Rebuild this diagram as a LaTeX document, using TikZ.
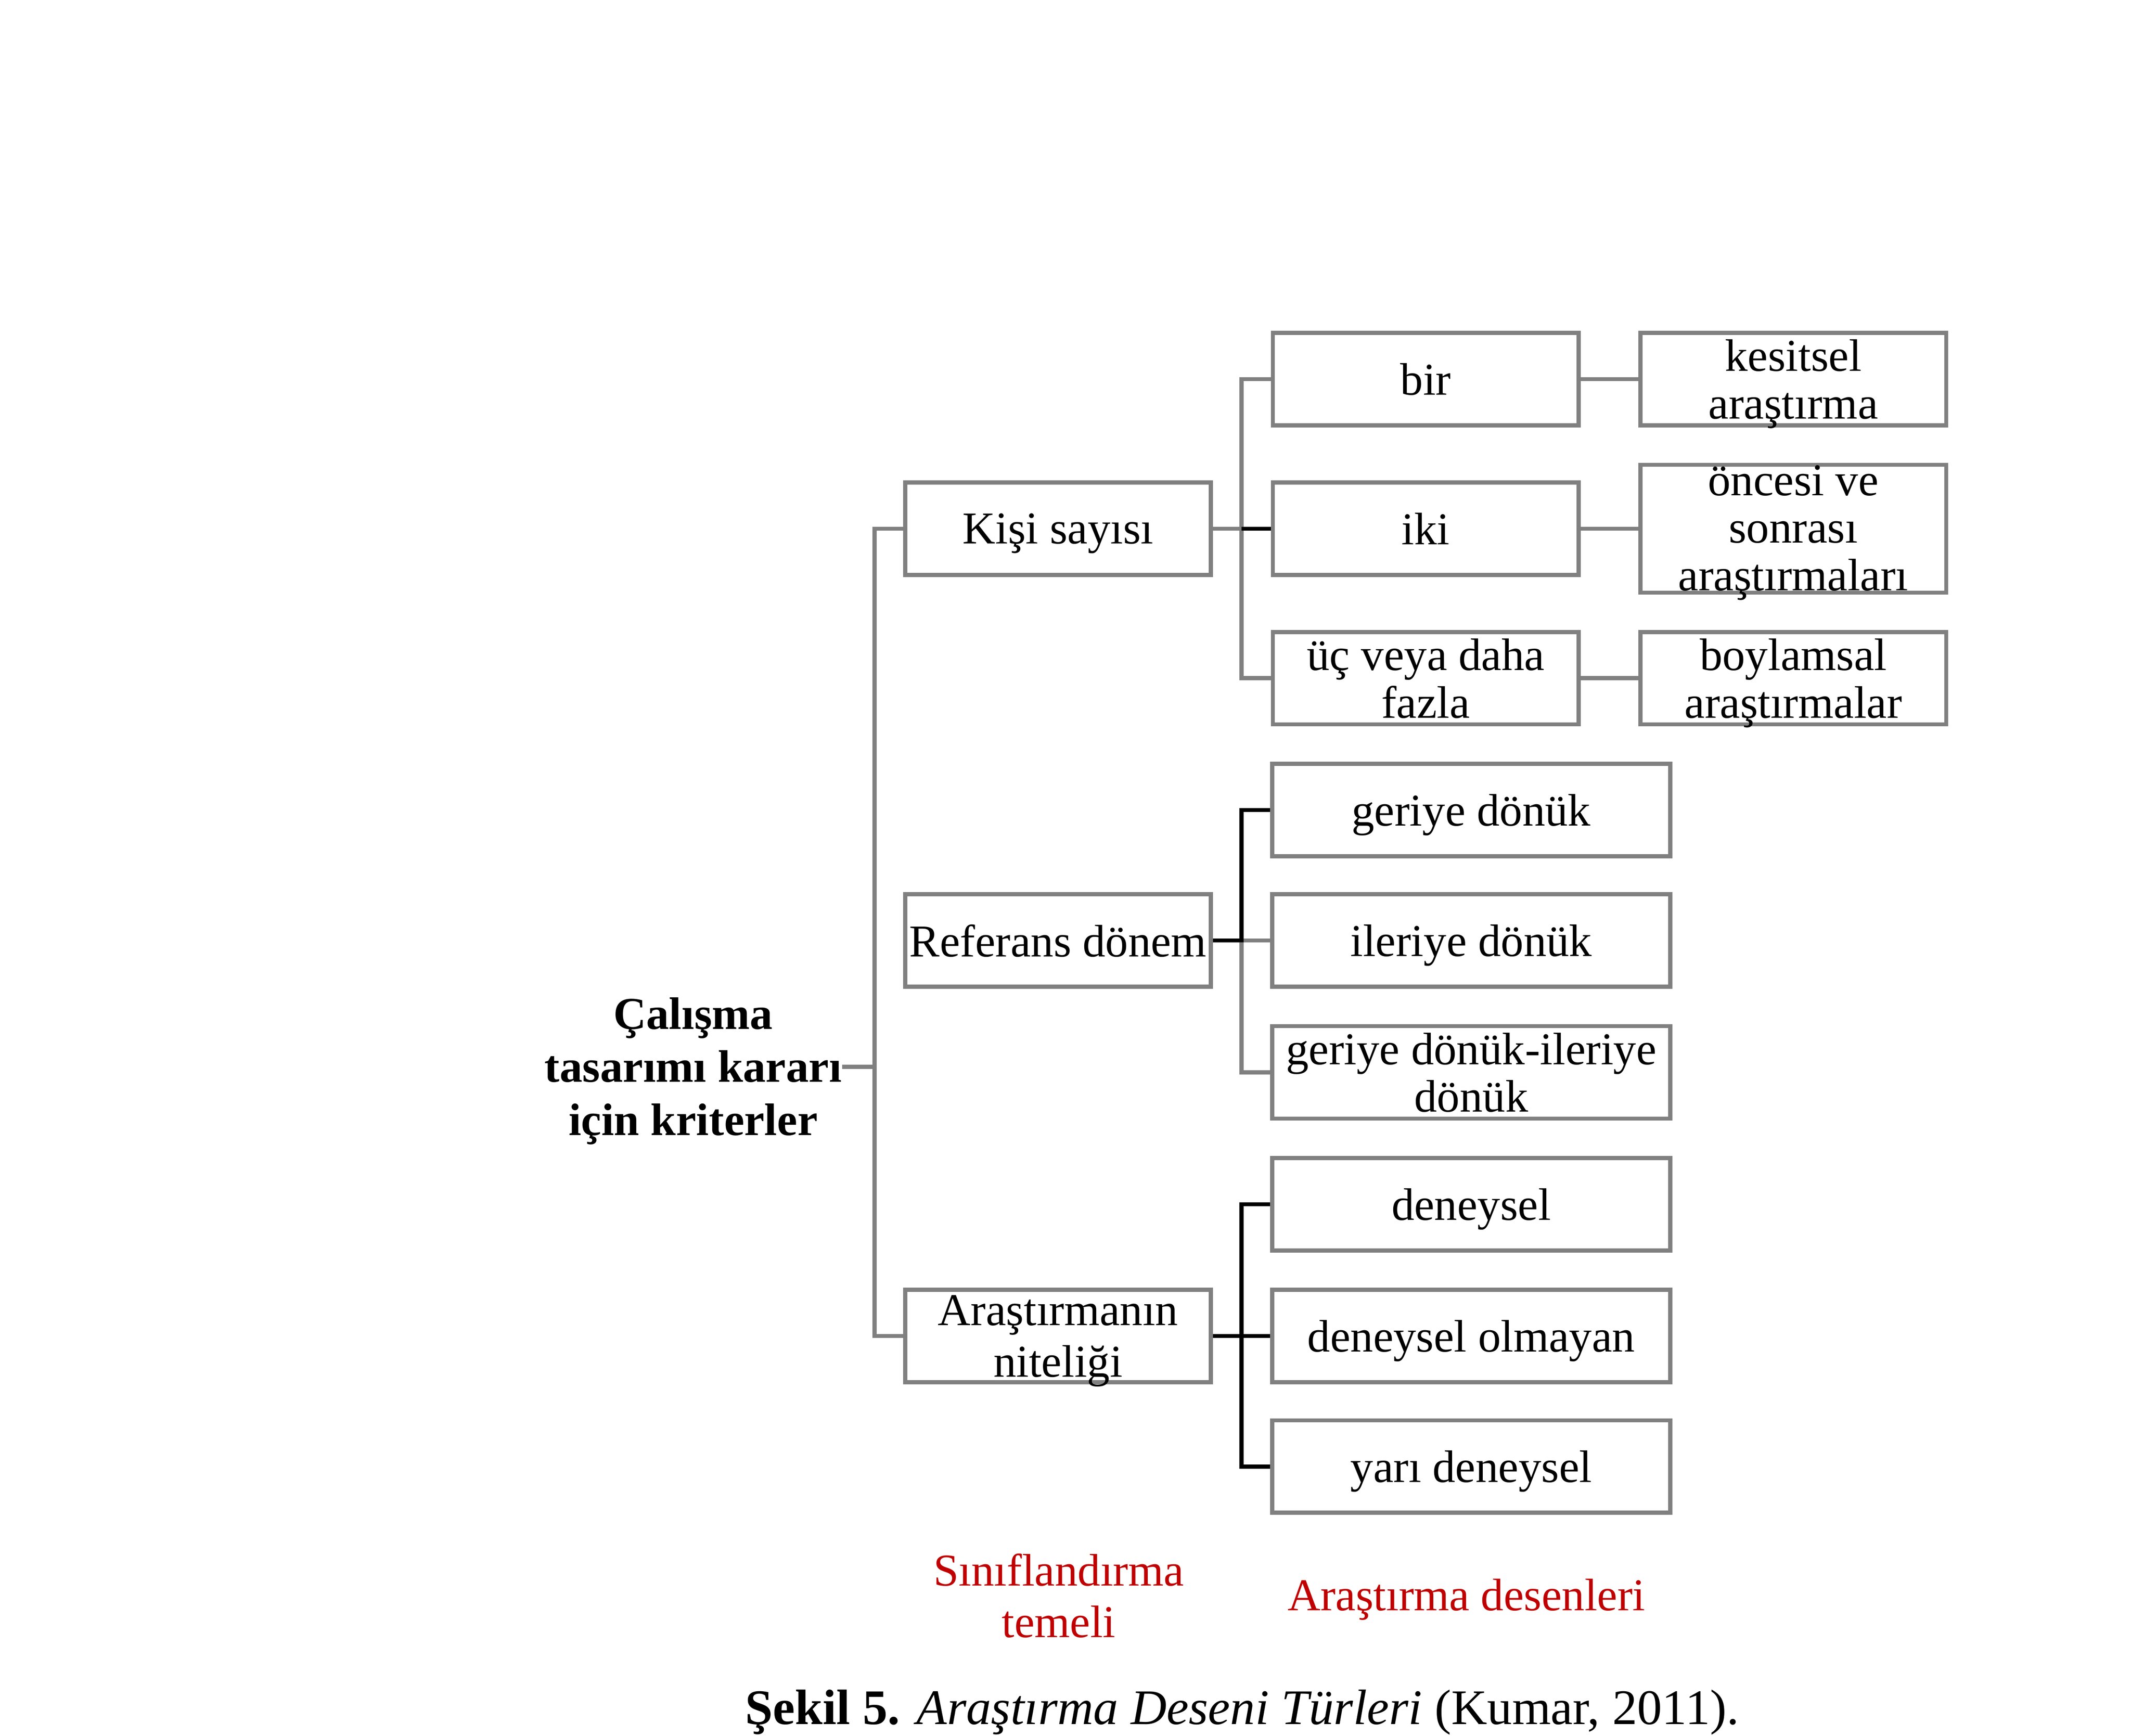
\documentclass[tikz,border=0pt]{standalone}
\usepackage{fontspec}
\setmainfont{Liberation Serif}
\usepackage{tikz}
\definecolor{boxGray}{HTML}{808080}
\definecolor{noteRed}{HTML}{C00000}
\tikzset{
  every picture/.style={font={\fontsize{33.5}{35}\selectfont}},
  grayLine/.style={draw=boxGray, line width=3pt},
  blackLine/.style={draw=black, line width=3pt}}

\begin{document}
\begin{tikzpicture}[
    x=1pt, y=-1pt,
    critBox/.style={
      draw=boxGray, line width=3pt,
      align=center, inner sep=0pt, text depth=0pt,
      minimum width=225pt, minimum height=68pt},
    wideBox/.style={critBox, minimum width=293pt},
    redNote/.style={text=noteRed, align=center,
      font={\fontsize{33.5}{38}\selectfont}}]

  \useasboundingbox (0,0) rectangle (1568,1277);

  \node[align=center, inner sep=0pt,
        font={\bfseries\fontsize{33.5}{39}\selectfont}]
    (root) at (510,788) {Çalışma\\tasarımı kararı\\için kriterler};

  \node[critBox] (kisi) at (778.5,389) {Kişi sayısı};
  \node[critBox] (referans) at (778.5,692) {Referans dönem};
  \node[critBox, font={\fontsize{33.5}{38}\selectfont}]
    (nitelik) at (778.5,983) {Araştırmanın\\niteliği};

  \node[critBox] (bir) at (1049,279) {bir};
  \node[critBox] (iki) at (1049,389) {iki};
  \node[critBox] (uc) at (1049,499) {üç veya daha\\fazla};

  \node[critBox] (kesitsel) at (1319.5,279) {kesitsel\\araştırma};
  \node[critBox, minimum height=94pt, text height=92.5pt, text depth=1.5pt]
    (oncesi) at (1319.5,389) {öncesi ve\\sonrası\\araştırmaları};
  \node[critBox] (boylamsal) at (1319.5,499) {boylamsal\\araştırmalar};

  \node[wideBox] (geriye) at (1082.5,596) {geriye dönük};
  \node[wideBox] (ileriye) at (1082.5,692) {ileriye dönük};
  \node[wideBox] (geriIleri) at (1082.5,789) {geriye dönük-ileriye\\dönük};
  \node[wideBox] (deneysel) at (1082.5,886) {deneysel};
  \node[wideBox] (olmayan) at (1082.5,983) {deneysel olmayan};
  \node[wideBox] (yari) at (1082.5,1079) {yarı deneysel};

  \node[redNote] (sinif) at (779,1174) {Sınıflandırma\\temeli};
  \node[redNote] (desen) at (1079,1177) {Araştırma desenleri};

  \node[font={\fontsize{36.6}{40}\selectfont}] (caption) at (914,1260)
    {\textbf{Şekil 5.} \textit{Araştırma Deseni Türleri} (Kumar, 2011).};

  \coordinate (rootFork) at (643.5,785);
  \coordinate (kisiFork) at (913.5,389);
  \coordinate (refFork) at (913.5,692);
  \coordinate (nitFork) at (913.5,983);

  \draw[grayLine] (rootFork -| root.east) -- (rootFork);
  \draw[grayLine] (kisi.west) -| (rootFork) |- (nitelik.west);
  \draw[grayLine] (kisi.east) -- (kisiFork);
  \draw[grayLine] (bir.west) -| (kisiFork) |- (uc.west);
  \draw[grayLine] (refFork) -- (ileriye.west);
  \draw[grayLine] (refFork) |- (geriIleri.west);
  \foreach \from/\to in {bir/kesitsel, iki/oncesi, uc/boylamsal}
    \draw[grayLine] (\from.east) -- (\to.west);

  \draw[blackLine] (kisiFork) -- (iki.west);
  \draw[blackLine] (referans.east) -- (refFork) |- (geriye.west);
  \draw[blackLine] (nitelik.east) -- (nitFork);
  \draw[blackLine] (deneysel.west) -| (nitFork) |- (yari.west);
  \draw[blackLine] (nitFork) -- (olmayan.west);
\end{tikzpicture}
\end{document}
